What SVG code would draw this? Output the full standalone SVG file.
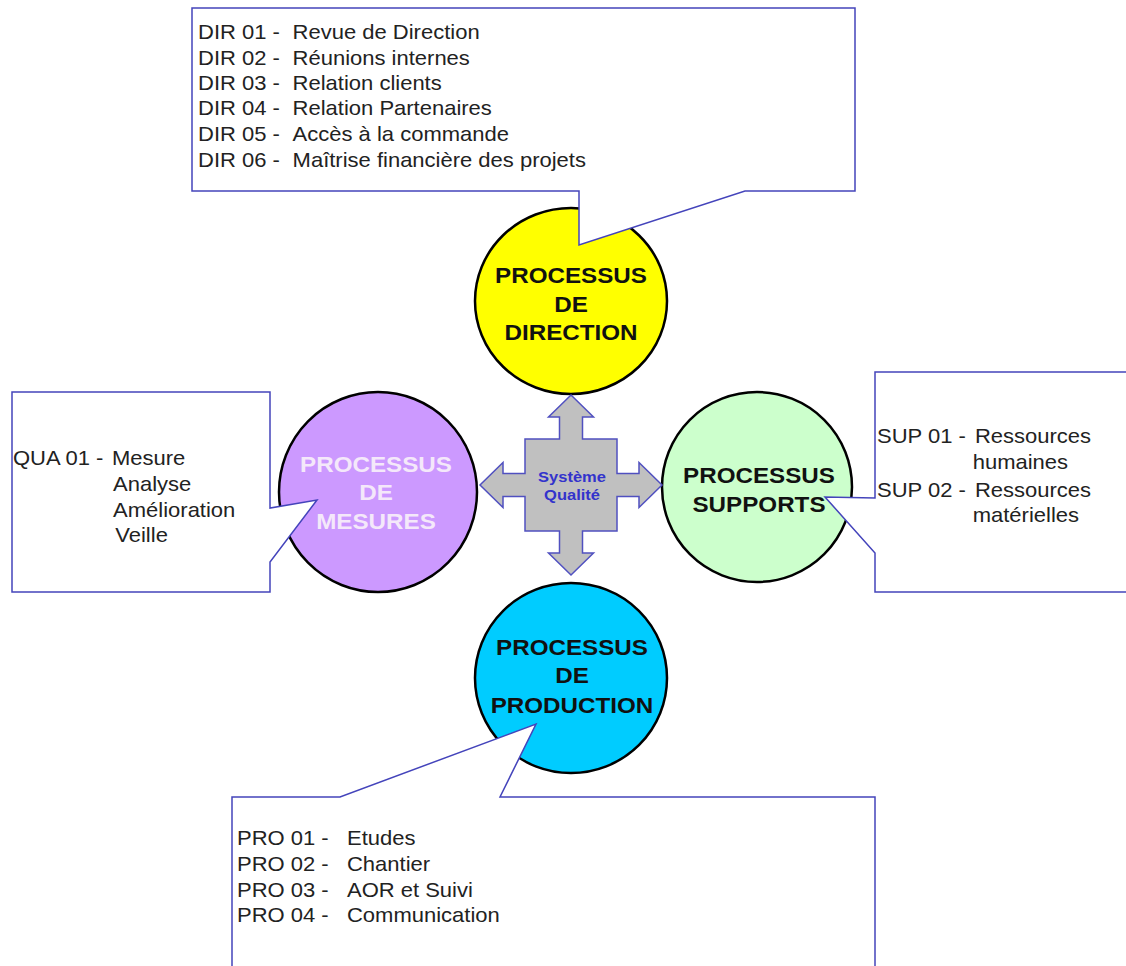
<svg xmlns="http://www.w3.org/2000/svg" width="1126" height="966" viewBox="0 0 1126 966">
<style>
.bg{fill:#ffffff}
.circ{stroke:#000000;stroke-width:2.5}
.call{fill:#ffffff;stroke:#4444bb;stroke-width:1.5;stroke-linejoin:miter}
.ct{font-family:"Liberation Sans",Arial,sans-serif;font-size:20px;fill:#222222}
.ht{font-family:"Liberation Sans",Arial,sans-serif;font-size:22px;font-weight:bold;text-anchor:middle}
.cross{fill:#c0c0c0;stroke:#5050c0;stroke-width:1.5;stroke-linejoin:miter}
.qt{font-family:"Liberation Sans",Arial,sans-serif;font-size:15px;font-weight:bold;fill:#3333cc;text-anchor:middle}
</style>
<rect class="bg" x="0" y="0" width="1126" height="966"/>

<g id="direction">
<ellipse class="circ" cx="571" cy="301" rx="96" ry="93" fill="#ffff00"/>
</g>
<g id="mesures">
<ellipse class="circ" cx="378" cy="492" rx="99" ry="100" fill="#cc99ff"/>
</g>
<g id="supports">
<ellipse class="circ" cx="757" cy="487" rx="95" ry="95" fill="#ccffcc"/>
</g>
<g id="production">
<ellipse class="circ" cx="571" cy="678" rx="96" ry="95" fill="#00ccff"/>
</g>

<g id="connectors">
<polygon class="cross" points="571,395 593.5,417 582.5,417 582.5,439 617,439 617,473.5 639,473.5 639,462.5 662,485 639,507.5 639,496.5 617,496.5 617,531 582.5,531 582.5,553 593.5,553 571,575 548.5,553 559.5,553 559.5,531 525,531 525,496.5 503,496.5 503,507.5 480,485 503,462.5 503,473.5 525,473.5 525,439 559.5,439 559.5,417 548.5,417"/>
</g>

<g id="systeme-qualite">
<text class="qt" transform="translate(572,0) scale(1.1,1)" x="0" y="482">Système</text>
<text class="qt" transform="translate(572,0) scale(1.1,1)" x="0" y="500">Qualité</text>
</g>

<g id="callout-direction">
<polygon class="call" points="192,8 855,8 855,191 745,191 579,245 579,191 192,191"/>
<g transform="translate(198,0) scale(1.1,1)">
<text class="ct" y="39"><tspan x="0">DIR 01 -</tspan><tspan x="86">Revue de Direction</tspan></text>
<text class="ct" y="65"><tspan x="0">DIR 02 -</tspan><tspan x="86">Réunions internes</tspan></text>
<text class="ct" y="90"><tspan x="0">DIR 03 -</tspan><tspan x="86">Relation clients</tspan></text>
<text class="ct" y="115"><tspan x="0">DIR 04 -</tspan><tspan x="86">Relation Partenaires</tspan></text>
<text class="ct" y="141"><tspan x="0">DIR 05 -</tspan><tspan x="86">Accès à la commande</tspan></text>
<text class="ct" y="167"><tspan x="0">DIR 06 -</tspan><tspan x="86">Maîtrise financière des projets</tspan></text>
</g>
</g>

<g id="callout-mesures">
<polygon class="call" points="12,392 270,392 270,508 317,500 270,562 270,592 12,592"/>
<g transform="translate(13,0) scale(1.1,1)">
<text class="ct" y="465"><tspan x="0">QUA 01 -</tspan><tspan x="90">Mesure</tspan></text>
<text class="ct" x="91" y="491">Analyse</text>
<text class="ct" x="91" y="517">Amélioration</text>
<text class="ct" x="93" y="542">Veille</text>
</g>
</g>

<g id="callout-supports">
<polygon class="call" points="875,372 1130,372 1130,592 875,592 875,553 825,497 875,498"/>
<g transform="translate(877,0) scale(1.1,1)">
<text class="ct" y="443"><tspan x="0">SUP 01 -</tspan><tspan x="89">Ressources</tspan></text>
<text class="ct" x="87" y="469">humaines</text>
<text class="ct" y="497"><tspan x="0">SUP 02 -</tspan><tspan x="89">Ressources</tspan></text>
<text class="ct" x="87" y="522">matérielles</text>
</g>
</g>

<g id="callout-production">
<polygon class="call" points="232,975 232,797 340,797 536,724 500,797 875,797 875,975"/>
<g transform="translate(237,0) scale(1.1,1)">
<text class="ct" y="845"><tspan x="0">PRO 01 -</tspan><tspan x="100">Etudes</tspan></text>
<text class="ct" y="871"><tspan x="0">PRO 02 -</tspan><tspan x="100">Chantier</tspan></text>
<text class="ct" y="897"><tspan x="0">PRO 03 -</tspan><tspan x="100">AOR et Suivi</tspan></text>
<text class="ct" y="922"><tspan x="0">PRO 04 -</tspan><tspan x="100">Communication</tspan></text>
</g>
</g>

<g id="labels">
<g transform="translate(571,0) scale(1.1,1)" fill="#111111">
<text class="ht" x="0" y="283">PROCESSUS</text>
<text class="ht" x="0" y="312">DE</text>
<text class="ht" x="0" y="340">DIRECTION</text>
</g>
<g transform="translate(376,0) scale(1.1,1)" fill="#f4e8fa">
<text class="ht" x="0" y="472">PROCESSUS</text>
<text class="ht" x="0" y="500">DE</text>
<text class="ht" x="0" y="529">MESURES</text>
</g>
<g transform="translate(759,0) scale(1.1,1)" fill="#111111">
<text class="ht" x="0" y="483">PROCESSUS</text>
<text class="ht" x="0" y="512">SUPPORTS</text>
</g>
<g transform="translate(572,0) scale(1.1,1)" fill="#111111">
<text class="ht" x="0" y="655">PROCESSUS</text>
<text class="ht" x="0" y="683">DE</text>
<text class="ht" x="0" y="713">PRODUCTION</text>
</g>
</g>
</svg>
